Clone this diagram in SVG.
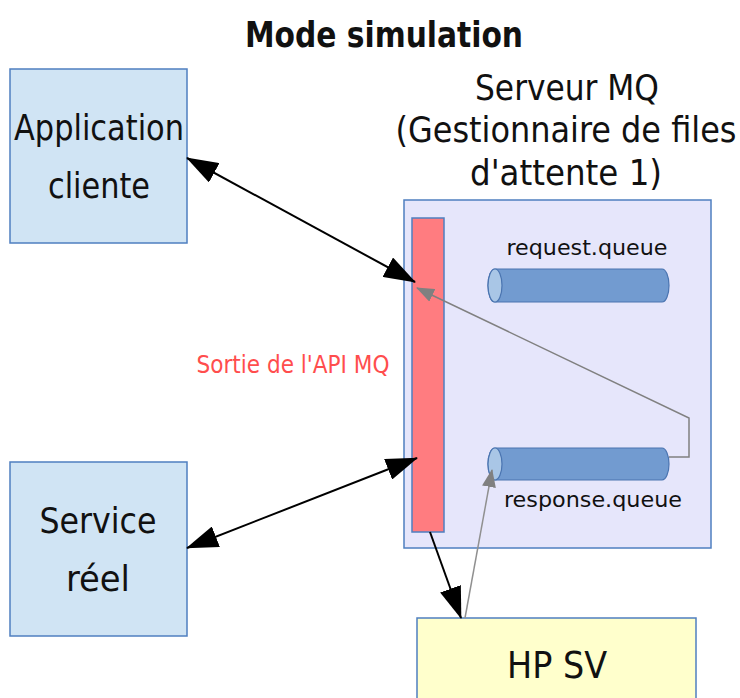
<svg xmlns="http://www.w3.org/2000/svg" width="740" height="698" viewBox="0 0 740 698">
<style>
.t{font-family:"Liberation Sans Narrow","DejaVu Sans Condensed","DejaVu Sans",sans-serif;fill:#111;}
.box{stroke:#4f7fc0;stroke-width:1.5;}
</style>
<defs>
<marker id="ab" viewBox="0 0 32 22" refX="31" refY="11" markerWidth="32" markerHeight="22" markerUnits="userSpaceOnUse" orient="auto-start-reverse"><path d="M0,0 L32,11 L0,22 z" fill="#000"/></marker>
<marker id="ag" viewBox="0 0 18 14" refX="17" refY="7" markerWidth="18" markerHeight="14" markerUnits="userSpaceOnUse" orient="auto"><path d="M0,0 L18,7 L0,14 z" fill="#808080"/></marker>
</defs>
<rect width="740" height="698" fill="#fff"/>
<text class="t" x="384" y="47" font-size="35" font-weight="bold" text-anchor="middle" textLength="278" lengthAdjust="spacingAndGlyphs">Mode simulation</text>

<g id="application">
<rect class="box" x="10" y="69" width="177" height="174" fill="#d0e4f4"/>
<text class="t" x="99" y="140" font-size="36" text-anchor="middle" textLength="170" lengthAdjust="spacingAndGlyphs">Application</text>
<text class="t" x="99" y="198" font-size="36" text-anchor="middle" textLength="102" lengthAdjust="spacingAndGlyphs">cliente</text>
</g>

<g id="service">
<rect class="box" x="10" y="462" width="177" height="174" fill="#d0e4f4"/>
<text class="t" x="98" y="533" font-size="36" text-anchor="middle" textLength="117" lengthAdjust="spacingAndGlyphs">Service</text>
<text class="t" x="98" y="591" font-size="36" text-anchor="middle" textLength="64" lengthAdjust="spacingAndGlyphs">réel</text>
</g>

<g id="serveur">
<text class="t" x="567" y="100" font-size="35" text-anchor="middle" textLength="184" lengthAdjust="spacingAndGlyphs">Serveur MQ</text>
<text class="t" x="566" y="142" font-size="35" text-anchor="middle" textLength="341" lengthAdjust="spacingAndGlyphs">(Gestionnaire de files</text>
<text class="t" x="566" y="185" font-size="35" text-anchor="middle" textLength="192" lengthAdjust="spacingAndGlyphs">d'attente 1)</text>
<rect class="box" x="404" y="200" width="307" height="348" fill="#e6e6fb"/>
</g>

<g id="api">
<rect class="box" x="412" y="218" width="32" height="314" fill="#ff7c80"/>
<text class="t" x="293" y="373" font-size="24" text-anchor="middle" style="fill:#ff4d4d" textLength="193" lengthAdjust="spacingAndGlyphs">Sortie de l'API MQ</text>
</g>

<g id="request">
<path d="M495,269 L662,269 A7,16.5 0 0 1 662,302 L495,302 A7,16.5 0 0 1 495,269 Z" fill="#729bd0" stroke="#4a74b0" stroke-width="1.2"/>
<ellipse cx="495" cy="285.5" rx="7" ry="16.5" fill="#a9c6e6" stroke="#4a74b0" stroke-width="1.2"/>
<text class="t" x="587" y="255" font-size="22" text-anchor="middle" textLength="161" lengthAdjust="spacingAndGlyphs">request.queue</text>
</g>

<g id="response">
<path d="M495,448 L662,448 A7,16 0 0 1 662,480 L495,480 A7,16 0 0 1 495,448 Z" fill="#729bd0" stroke="#4a74b0" stroke-width="1.2"/>
<ellipse cx="495" cy="464" rx="7" ry="16" fill="#a9c6e6" stroke="#4a74b0" stroke-width="1.2"/>
<text class="t" x="593" y="507" font-size="22" text-anchor="middle" textLength="178" lengthAdjust="spacingAndGlyphs">response.queue</text>
</g>

<g id="hpsv">
<rect class="box" x="417" y="618" width="279" height="90" fill="#ffffcc"/>
<text class="t" x="557" y="678" font-size="38" text-anchor="middle" textLength="100" lengthAdjust="spacingAndGlyphs">HP SV</text>
</g>

<g id="connectors" fill="none">
<line x1="187" y1="158" x2="415" y2="282" stroke="#000" stroke-width="2" marker-start="url(#ab)" marker-end="url(#ab)"/>
<line x1="187" y1="548" x2="417" y2="458" stroke="#000" stroke-width="2" marker-start="url(#ab)" marker-end="url(#ab)"/>
<line x1="430" y1="532" x2="461" y2="618" stroke="#000" stroke-width="2" marker-end="url(#ab)"/>
<polyline points="669,457 689,457 689,418 417,288" stroke="#808080" stroke-width="1.5" marker-end="url(#ag)"/>
<line x1="465" y1="618" x2="492" y2="470" stroke="#909090" stroke-width="1.5" marker-end="url(#ag)"/>
</g>
</svg>
